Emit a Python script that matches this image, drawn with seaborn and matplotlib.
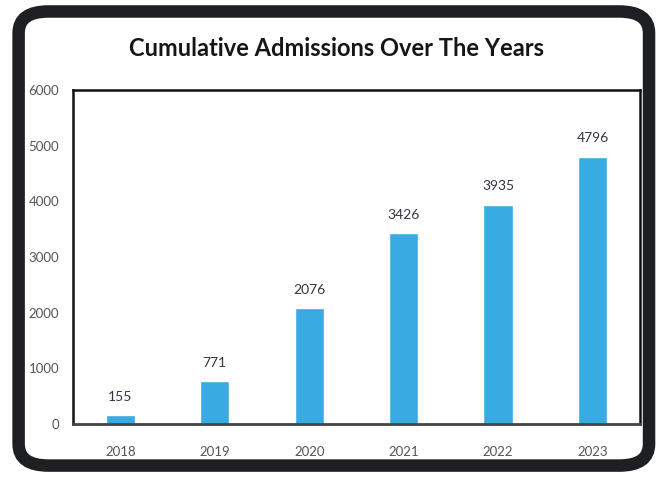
import matplotlib
matplotlib.use("Agg")
import matplotlib.pyplot as plt
from matplotlib.patches import FancyBboxPatch
import seaborn as sns
import pandas as pd

years = ["2018", "2019", "2020", "2021", "2022", "2023"]
admissions = [155, 771, 2076, 3426, 3935, 4796]
y_ticks = [0, 1000, 2000, 3000, 4000, 5000, 6000]
title = "Cumulative Admissions Over The Years"

df = pd.DataFrame({"year": years, "admissions": admissions})

sns.set_theme(style="white")
plt.rcParams["font.family"] = ["Lato", "DejaVu Sans"]

fig = plt.figure(figsize=(6.65, 4.78), dpi=100)
fig.patch.set_facecolor("white")

# rounded dark frame around the whole card
frame = FancyBboxPatch((0.028, 0.026), 0.948, 0.950,
                       boxstyle="round,pad=0,rounding_size=0.045",
                       transform=fig.transFigure, facecolor="none",
                       edgecolor="#1e1f22", linewidth=9, zorder=5)
fig.patches.append(frame)

ax = fig.add_axes([0.110, 0.113, 0.852, 0.699])
sns.barplot(data=df, x="year", y="admissions", color="#38abe2",
            saturation=1, width=0.31, ax=ax, zorder=2)

ax.set_ylim(0, 6000)
ax.set_xlim(-0.5, 5.5)
ax.set_yticks(y_ticks)
ax.set_yticklabels([str(v) for v in y_ticks])
ax.set_xlabel("")
ax.set_ylabel("")
ax.tick_params(axis="both", length=0, labelsize=9.5, labelcolor="#555555")
ax.tick_params(axis="y", pad=10)
ax.tick_params(axis="x", pad=16)

for side in ["left", "top", "right"]:
    ax.spines[side].set_visible(True)
    ax.spines[side].set_color("#111111")
    ax.spines[side].set_linewidth(1.8)
ax.spines["bottom"].set_color("#444444")
ax.spines["bottom"].set_linewidth(2)

for i, v in enumerate(admissions):
    ax.annotate(str(v), (i, v), xytext=(0, 9), textcoords="offset points",
                ha="center", va="bottom", fontsize=10, color="#333344")

fig.text(0.506, 0.898, title, ha="center", va="center",
         fontsize=17, fontweight="bold", color="#151515")

fig.savefig("out.png", dpi=100)
